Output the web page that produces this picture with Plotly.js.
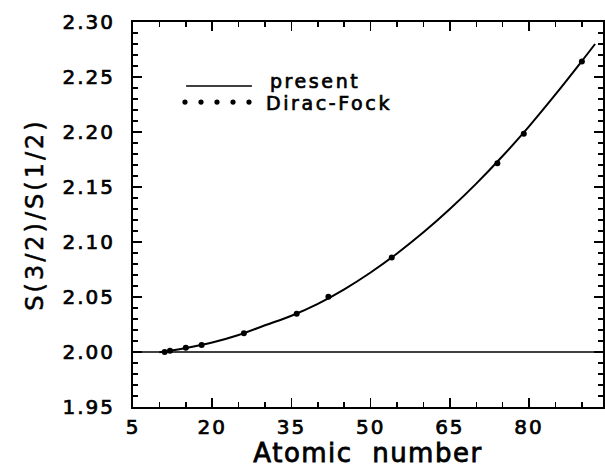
<!DOCTYPE html>
<html>
<head>
<meta charset="utf-8">
<script src="https://cdn.plot.ly/plotly-3.0.1.min.js"></script>
<style>
  html, body { margin: 0; padding: 0; background: #fff; }
  #chart { width: 605px; height: 468px; }
  #chart .xtick text, #chart .ytick text { letter-spacing: 2px; stroke: #000; stroke-width: 0.7px; }
  #chart .g-xtitle text { letter-spacing: 1.5px; stroke: #000; stroke-width: 0.8px; }
  #chart .g-ytitle text { letter-spacing: 3px; stroke: #000; stroke-width: 0.5px; }
  #chart .annotation-text { letter-spacing: 2.6px; stroke: #000; stroke-width: 0.7px; }
</style>
</head>
<body>
<div id="chart"></div>
<script>
// "present" calculation (solid curve)
const presentZ = [10, 15, 20, 25, 30, 35, 40, 45, 50, 55, 60, 65, 70, 75, 80, 85, 90, 92.5];
const presentRatio = [1.9997, 2.0037, 2.0087, 2.0155, 2.0243, 2.0330, 2.0438, 2.0570, 2.0723, 2.0896,
                      2.1088, 2.1300, 2.1531, 2.1782, 2.2052, 2.2342, 2.2645, 2.2800];
// Dirac-Fock points
const diracZ = [11, 12, 15, 18, 26, 36, 42, 54, 74, 79, 90];
const diracRatio = [2.000, 2.0012, 2.0039, 2.0064, 2.017, 2.0348, 2.0503, 2.086, 2.1715, 2.1985, 2.264];
// Non-relativistic limit
const nonrelLimit = 2.0;
// Axis ticks
const xTickVals = [5, 20, 35, 50, 65, 80];
const yTickVals = [1.95, 2.00, 2.05, 2.10, 2.15, 2.20, 2.25, 2.30];
const yTickText = ["1.95", "2.00", "2.05", "2.10", "2.15", "2.20", "2.25", "2.30"];
const legendLabels = ["present", "Dirac-Fock"];

const FONT = "DejaVu Sans, Arial, sans-serif";

const traces = [
  {
    x: presentZ, y: presentRatio, type: "scatter", mode: "lines",
    line: {color: "#000", width: 2, shape: "spline", smoothing: 1},
    showlegend: false, hoverinfo: "skip"
  },
  {
    x: diracZ, y: diracRatio, type: "scatter", mode: "markers",
    marker: {color: "#000", size: 6},
    showlegend: false, hoverinfo: "skip"
  }
];

// legend drawn by hand (long line sample and five dots)
const legLineY = 0.834, legDotY = 0.792;
const dotXs = [0.1106, 0.1447, 0.1787, 0.2128, 0.2468];
const shapes = [
  {type: "line", xref: "paper", yref: "y", x0: 0, x1: 1, y0: nonrelLimit, y1: nonrelLimit,
   line: {color: "#000", width: 1.5}},
  {type: "line", xref: "paper", yref: "paper", x0: 0.113, x1: 0.253, y0: legLineY, y1: legLineY,
   line: {color: "#000", width: 1.5}}
];
dotXs.forEach(function (px) {
  shapes.push({type: "circle", xref: "paper", yref: "paper", xsizemode: "pixel", ysizemode: "pixel",
    xanchor: px, yanchor: legDotY, x0: -2.6, x1: 2.6, y0: -2.6, y1: 2.6,
    fillcolor: "#000", line: {color: "#000", width: 0}});
});

const annotations = [
  {xref: "paper", yref: "paper", x: 0.3085, y: 0.8475, xanchor: "left", yanchor: "middle",
   text: legendLabels[0], showarrow: false, borderpad: 0, font: {family: FONT, size: 19, color: "#000"}},
  {xref: "paper", yref: "paper", x: 0.3085, y: 0.7890, xanchor: "left", yanchor: "middle",
   text: legendLabels[1], showarrow: false, borderpad: 0, font: {family: FONT, size: 19, color: "#000"}}
];

const layout = {
  width: 605, height: 468,
  margin: {l: 133, r: 2, t: 22, b: 61},
  paper_bgcolor: "#fff", plot_bgcolor: "#fff",
  showlegend: false,
  font: {family: FONT, color: "#000"},
  xaxis: {
    range: [5, 94], tickmode: "array", tickvals: xTickVals,
    ticks: "inside", ticklen: 9, tickwidth: 1.5, tickcolor: "#000",
    minor: {tickmode: "linear", tick0: 5, dtick: 5, ticks: "inside", ticklen: 5, tickwidth: 1.5, tickcolor: "#000", showgrid: false},
    showline: true, linewidth: 2, linecolor: "#000", mirror: "ticks",
    showgrid: false, zeroline: false,
    tickfont: {family: FONT, size: 20, color: "#000"},
    ticklabelstandoff: 1,
    title: {text: "Atomic  number", font: {family: FONT, size: 26, color: "#000"}, standoff: 5}
  },
  yaxis: {
    range: [1.95, 2.30], tickmode: "array", tickvals: yTickVals, ticktext: yTickText,
    ticks: "inside", ticklen: 9, tickwidth: 1.5, tickcolor: "#000",
    minor: {tickmode: "linear", tick0: 1.95, dtick: 0.01, ticks: "inside", ticklen: 5, tickwidth: 1.5, tickcolor: "#000", showgrid: false},
    showline: true, linewidth: 2, linecolor: "#000", mirror: "ticks",
    showgrid: false, zeroline: false,
    tickfont: {family: FONT, size: 20, color: "#000"},
    ticklabelstandoff: 12,
    title: {text: "S(3/2)/S(1/2)", font: {family: FONT, size: 24, color: "#000"}, standoff: 20}
  },
  shapes: shapes,
  annotations: annotations
};

Plotly.newPlot("chart", traces, layout, {staticPlot: true, displayModeBar: false});
</script>
</body>
</html>
